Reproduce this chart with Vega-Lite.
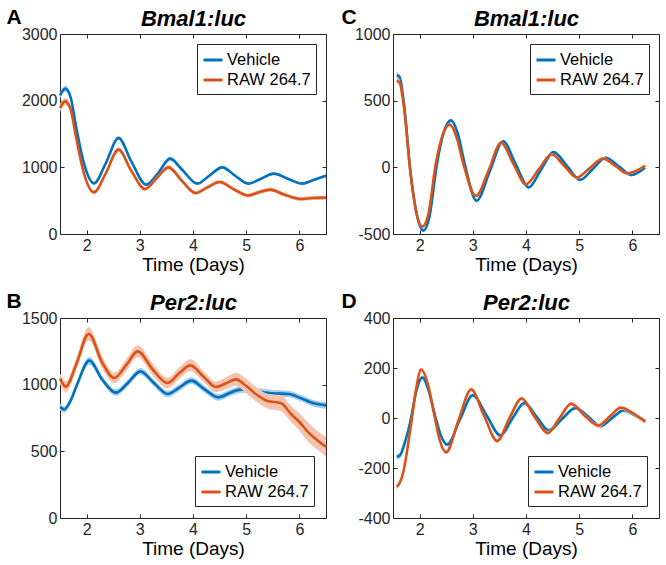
{
  "$schema": "https://vega.github.io/schema/vega-lite/v6.json",
  "padding": 5,
  "datasets": {
    "A": [
      {"g":"Vehicle","d":1.50,"v":2080,"lo":2035,"hi":2125},
      {"g":"Vehicle","d":1.60,"v":2180,"lo":2135,"hi":2225},
      {"g":"Vehicle","d":1.70,"v":2050,"lo":2010,"hi":2090},
      {"g":"Vehicle","d":1.80,"v":1620,"lo":1585,"hi":1655},
      {"g":"Vehicle","d":1.95,"v":1060,"lo":1030,"hi":1090},
      {"g":"Vehicle","d":2.14,"v":760,"lo":735,"hi":785},
      {"g":"Vehicle","d":2.36,"v":1060,"lo":1035,"hi":1085},
      {"g":"Vehicle","d":2.60,"v":1440,"lo":1410,"hi":1470},
      {"g":"Vehicle","d":2.84,"v":1090,"lo":1065,"hi":1115},
      {"g":"Vehicle","d":3.12,"v":740,"lo":715,"hi":765},
      {"g":"Vehicle","d":3.34,"v":910,"lo":885,"hi":935},
      {"g":"Vehicle","d":3.57,"v":1130,"lo":1100,"hi":1160},
      {"g":"Vehicle","d":3.80,"v":960,"lo":935,"hi":985},
      {"g":"Vehicle","d":4.08,"v":755,"lo":735,"hi":775},
      {"g":"Vehicle","d":4.30,"v":870,"lo":850,"hi":890},
      {"g":"Vehicle","d":4.55,"v":1000,"lo":980,"hi":1020},
      {"g":"Vehicle","d":4.80,"v":870,"lo":850,"hi":890},
      {"g":"Vehicle","d":5.04,"v":755,"lo":735,"hi":775},
      {"g":"Vehicle","d":5.28,"v":830,"lo":810,"hi":850},
      {"g":"Vehicle","d":5.52,"v":905,"lo":885,"hi":925},
      {"g":"Vehicle","d":5.78,"v":830,"lo":810,"hi":850},
      {"g":"Vehicle","d":6.05,"v":755,"lo":735,"hi":775},
      {"g":"Vehicle","d":6.28,"v":815,"lo":795,"hi":835},
      {"g":"Vehicle","d":6.50,"v":875,"lo":855,"hi":895},
      {"g":"RAW 264.7","d":1.50,"v":1890,"lo":1830,"hi":1950},
      {"g":"RAW 264.7","d":1.60,"v":1990,"lo":1935,"hi":2045},
      {"g":"RAW 264.7","d":1.70,"v":1870,"lo":1820,"hi":1920},
      {"g":"RAW 264.7","d":1.80,"v":1460,"lo":1415,"hi":1505},
      {"g":"RAW 264.7","d":1.95,"v":910,"lo":875,"hi":945},
      {"g":"RAW 264.7","d":2.14,"v":625,"lo":595,"hi":655},
      {"g":"RAW 264.7","d":2.36,"v":910,"lo":880,"hi":940},
      {"g":"RAW 264.7","d":2.60,"v":1265,"lo":1230,"hi":1300},
      {"g":"RAW 264.7","d":2.84,"v":950,"lo":920,"hi":980},
      {"g":"RAW 264.7","d":3.10,"v":675,"lo":645,"hi":705},
      {"g":"RAW 264.7","d":3.32,"v":840,"lo":810,"hi":870},
      {"g":"RAW 264.7","d":3.54,"v":1000,"lo":965,"hi":1035},
      {"g":"RAW 264.7","d":3.80,"v":790,"lo":760,"hi":820},
      {"g":"RAW 264.7","d":4.05,"v":615,"lo":585,"hi":645},
      {"g":"RAW 264.7","d":4.27,"v":700,"lo":670,"hi":730},
      {"g":"RAW 264.7","d":4.50,"v":780,"lo":750,"hi":810},
      {"g":"RAW 264.7","d":4.77,"v":670,"lo":640,"hi":700},
      {"g":"RAW 264.7","d":5.03,"v":578,"lo":548,"hi":608},
      {"g":"RAW 264.7","d":5.24,"v":625,"lo":595,"hi":655},
      {"g":"RAW 264.7","d":5.45,"v":665,"lo":635,"hi":695},
      {"g":"RAW 264.7","d":5.72,"v":590,"lo":560,"hi":620},
      {"g":"RAW 264.7","d":6.03,"v":525,"lo":495,"hi":555},
      {"g":"RAW 264.7","d":6.25,"v":540,"lo":510,"hi":570},
      {"g":"RAW 264.7","d":6.50,"v":545,"lo":515,"hi":575}
    ],
    "B": [
      {"g":"Vehicle","d":1.50,"v":832,"lo":807,"hi":857},
      {"g":"Vehicle","d":1.58,"v":814,"lo":789,"hi":839},
      {"g":"Vehicle","d":1.70,"v":880,"lo":855,"hi":905},
      {"g":"Vehicle","d":1.82,"v":1000,"lo":975,"hi":1025},
      {"g":"Vehicle","d":2.05,"v":1180,"lo":1150,"hi":1210},
      {"g":"Vehicle","d":2.30,"v":1035,"lo":1010,"hi":1060},
      {"g":"Vehicle","d":2.55,"v":940,"lo":915,"hi":965},
      {"g":"Vehicle","d":2.78,"v":1015,"lo":990,"hi":1040},
      {"g":"Vehicle","d":3.01,"v":1100,"lo":1075,"hi":1125},
      {"g":"Vehicle","d":3.26,"v":1015,"lo":990,"hi":1040},
      {"g":"Vehicle","d":3.52,"v":930,"lo":905,"hi":955},
      {"g":"Vehicle","d":3.75,"v":980,"lo":955,"hi":1005},
      {"g":"Vehicle","d":3.97,"v":1030,"lo":1005,"hi":1055},
      {"g":"Vehicle","d":4.22,"v":965,"lo":940,"hi":990},
      {"g":"Vehicle","d":4.48,"v":905,"lo":880,"hi":930},
      {"g":"Vehicle","d":4.70,"v":940,"lo":915,"hi":965},
      {"g":"Vehicle","d":4.92,"v":965,"lo":940,"hi":990},
      {"g":"Vehicle","d":5.20,"v":950,"lo":925,"hi":975},
      {"g":"Vehicle","d":5.50,"v":935,"lo":910,"hi":960},
      {"g":"Vehicle","d":5.80,"v":930,"lo":905,"hi":955},
      {"g":"Vehicle","d":6.02,"v":900,"lo":875,"hi":925},
      {"g":"Vehicle","d":6.27,"v":860,"lo":835,"hi":885},
      {"g":"Vehicle","d":6.50,"v":845,"lo":820,"hi":870},
      {"g":"RAW 264.7","d":1.50,"v":1045,"lo":1005,"hi":1085},
      {"g":"RAW 264.7","d":1.61,"v":985,"lo":945,"hi":1025},
      {"g":"RAW 264.7","d":1.80,"v":1146,"lo":1101,"hi":1191},
      {"g":"RAW 264.7","d":2.04,"v":1380,"lo":1330,"hi":1430},
      {"g":"RAW 264.7","d":2.30,"v":1160,"lo":1115,"hi":1205},
      {"g":"RAW 264.7","d":2.52,"v":1050,"lo":1010,"hi":1090},
      {"g":"RAW 264.7","d":2.75,"v":1150,"lo":1105,"hi":1195},
      {"g":"RAW 264.7","d":2.96,"v":1250,"lo":1205,"hi":1295},
      {"g":"RAW 264.7","d":3.25,"v":1110,"lo":1065,"hi":1155},
      {"g":"RAW 264.7","d":3.52,"v":1012,"lo":972,"hi":1052},
      {"g":"RAW 264.7","d":3.75,"v":1090,"lo":1045,"hi":1135},
      {"g":"RAW 264.7","d":3.95,"v":1145,"lo":1100,"hi":1190},
      {"g":"RAW 264.7","d":4.20,"v":1060,"lo":1020,"hi":1100},
      {"g":"RAW 264.7","d":4.43,"v":983,"lo":943,"hi":1023},
      {"g":"RAW 264.7","d":4.62,"v":1010,"lo":965,"hi":1055},
      {"g":"RAW 264.7","d":4.81,"v":1040,"lo":990,"hi":1090},
      {"g":"RAW 264.7","d":5.00,"v":990,"lo":935,"hi":1045},
      {"g":"RAW 264.7","d":5.18,"v":930,"lo":875,"hi":985},
      {"g":"RAW 264.7","d":5.40,"v":877,"lo":822,"hi":932},
      {"g":"RAW 264.7","d":5.65,"v":862,"lo":802,"hi":922},
      {"g":"RAW 264.7","d":5.84,"v":782,"lo":722,"hi":842},
      {"g":"RAW 264.7","d":6.00,"v":720,"lo":655,"hi":785},
      {"g":"RAW 264.7","d":6.15,"v":650,"lo":580,"hi":720},
      {"g":"RAW 264.7","d":6.33,"v":585,"lo":515,"hi":655},
      {"g":"RAW 264.7","d":6.50,"v":535,"lo":460,"hi":610}
    ],
    "C": [
      {"g":"Vehicle","d":1.57,"v":690,"lo":665,"hi":715},
      {"g":"Vehicle","d":1.62,"v":680,"lo":660,"hi":700},
      {"g":"Vehicle","d":1.70,"v":500,"lo":485,"hi":515},
      {"g":"Vehicle","d":1.83,"v":-40,"lo":-50,"hi":-30},
      {"g":"Vehicle","d":1.95,"v":-360,"lo":-370,"hi":-350},
      {"g":"Vehicle","d":2.07,"v":-475,"lo":-487,"hi":-463},
      {"g":"Vehicle","d":2.18,"v":-380,"lo":-390,"hi":-370},
      {"g":"Vehicle","d":2.33,"v":35,"lo":25,"hi":45},
      {"g":"Vehicle","d":2.46,"v":270,"lo":260,"hi":280},
      {"g":"Vehicle","d":2.59,"v":352,"lo":340,"hi":364},
      {"g":"Vehicle","d":2.72,"v":250,"lo":240,"hi":260},
      {"g":"Vehicle","d":2.84,"v":40,"lo":30,"hi":50},
      {"g":"Vehicle","d":3.07,"v":-251,"lo":-261,"hi":-241},
      {"g":"Vehicle","d":3.32,"v":-30,"lo":-40,"hi":-20},
      {"g":"Vehicle","d":3.57,"v":196,"lo":186,"hi":206},
      {"g":"Vehicle","d":3.80,"v":30,"lo":20,"hi":40},
      {"g":"Vehicle","d":4.05,"v":-150,"lo":-160,"hi":-140},
      {"g":"Vehicle","d":4.28,"v":-20,"lo":-30,"hi":-10},
      {"g":"Vehicle","d":4.52,"v":114,"lo":104,"hi":124},
      {"g":"Vehicle","d":4.77,"v":10,"lo":0,"hi":20},
      {"g":"Vehicle","d":5.02,"v":-94,"lo":-104,"hi":-84},
      {"g":"Vehicle","d":5.26,"v":-10,"lo":-20,"hi":0},
      {"g":"Vehicle","d":5.50,"v":72,"lo":62,"hi":82},
      {"g":"Vehicle","d":5.75,"v":5,"lo":-5,"hi":15},
      {"g":"Vehicle","d":5.98,"v":-57,"lo":-67,"hi":-47},
      {"g":"Vehicle","d":6.24,"v":-2,"lo":-12,"hi":8},
      {"g":"RAW 264.7","d":1.57,"v":650,"lo":625,"hi":675},
      {"g":"RAW 264.7","d":1.62,"v":640,"lo":620,"hi":660},
      {"g":"RAW 264.7","d":1.70,"v":470,"lo":455,"hi":485},
      {"g":"RAW 264.7","d":1.83,"v":-45,"lo":-55,"hi":-35},
      {"g":"RAW 264.7","d":1.94,"v":-340,"lo":-350,"hi":-330},
      {"g":"RAW 264.7","d":2.05,"v":-445,"lo":-457,"hi":-433},
      {"g":"RAW 264.7","d":2.16,"v":-360,"lo":-370,"hi":-350},
      {"g":"RAW 264.7","d":2.31,"v":40,"lo":30,"hi":50},
      {"g":"RAW 264.7","d":2.44,"v":250,"lo":240,"hi":260},
      {"g":"RAW 264.7","d":2.57,"v":320,"lo":308,"hi":332},
      {"g":"RAW 264.7","d":2.70,"v":220,"lo":210,"hi":230},
      {"g":"RAW 264.7","d":2.82,"v":30,"lo":20,"hi":40},
      {"g":"RAW 264.7","d":3.06,"v":-215,"lo":-225,"hi":-205},
      {"g":"RAW 264.7","d":3.30,"v":-20,"lo":-30,"hi":-10},
      {"g":"RAW 264.7","d":3.53,"v":184,"lo":174,"hi":194},
      {"g":"RAW 264.7","d":3.77,"v":20,"lo":10,"hi":30},
      {"g":"RAW 264.7","d":4.00,"v":-127,"lo":-137,"hi":-117},
      {"g":"RAW 264.7","d":4.24,"v":-15,"lo":-25,"hi":-5},
      {"g":"RAW 264.7","d":4.48,"v":98,"lo":88,"hi":108},
      {"g":"RAW 264.7","d":4.72,"v":10,"lo":0,"hi":20},
      {"g":"RAW 264.7","d":4.96,"v":-76,"lo":-86,"hi":-66},
      {"g":"RAW 264.7","d":5.20,"v":-5,"lo":-15,"hi":5},
      {"g":"RAW 264.7","d":5.45,"v":65,"lo":55,"hi":75},
      {"g":"RAW 264.7","d":5.68,"v":10,"lo":0,"hi":20},
      {"g":"RAW 264.7","d":5.90,"v":-45,"lo":-55,"hi":-35},
      {"g":"RAW 264.7","d":6.24,"v":12,"lo":2,"hi":22}
    ],
    "D": [
      {"g":"Vehicle","d":1.57,"v":-155,"lo":-167,"hi":-143},
      {"g":"Vehicle","d":1.63,"v":-150,"lo":-160,"hi":-140},
      {"g":"Vehicle","d":1.72,"v":-100,"lo":-108,"hi":-92},
      {"g":"Vehicle","d":1.83,"v":-10,"lo":-18,"hi":-2},
      {"g":"Vehicle","d":1.93,"v":100,"lo":92,"hi":108},
      {"g":"Vehicle","d":2.05,"v":162,"lo":154,"hi":170},
      {"g":"Vehicle","d":2.17,"v":110,"lo":102,"hi":118},
      {"g":"Vehicle","d":2.29,"v":10,"lo":2,"hi":18},
      {"g":"Vehicle","d":2.40,"v":-70,"lo":-78,"hi":-62},
      {"g":"Vehicle","d":2.52,"v":-106,"lo":-114,"hi":-98},
      {"g":"Vehicle","d":2.76,"v":-5,"lo":-13,"hi":3},
      {"g":"Vehicle","d":3.00,"v":91,"lo":83,"hi":99},
      {"g":"Vehicle","d":3.26,"v":10,"lo":2,"hi":18},
      {"g":"Vehicle","d":3.52,"v":-70,"lo":-78,"hi":-62},
      {"g":"Vehicle","d":3.75,"v":0,"lo":-8,"hi":8},
      {"g":"Vehicle","d":3.97,"v":60,"lo":52,"hi":68},
      {"g":"Vehicle","d":4.20,"v":5,"lo":-3,"hi":13},
      {"g":"Vehicle","d":4.43,"v":-50,"lo":-58,"hi":-42},
      {"g":"Vehicle","d":4.68,"v":-3,"lo":-11,"hi":5},
      {"g":"Vehicle","d":4.93,"v":40,"lo":32,"hi":48},
      {"g":"Vehicle","d":5.17,"v":5,"lo":-3,"hi":13},
      {"g":"Vehicle","d":5.40,"v":-32,"lo":-40,"hi":-24},
      {"g":"Vehicle","d":5.62,"v":0,"lo":-8,"hi":8},
      {"g":"Vehicle","d":5.84,"v":31,"lo":23,"hi":39},
      {"g":"Vehicle","d":6.04,"v":12,"lo":4,"hi":20},
      {"g":"Vehicle","d":6.24,"v":-12,"lo":-20,"hi":-4},
      {"g":"RAW 264.7","d":1.57,"v":-275,"lo":-287,"hi":-263},
      {"g":"RAW 264.7","d":1.62,"v":-262,"lo":-272,"hi":-252},
      {"g":"RAW 264.7","d":1.70,"v":-210,"lo":-218,"hi":-202},
      {"g":"RAW 264.7","d":1.78,"v":-110,"lo":-118,"hi":-102},
      {"g":"RAW 264.7","d":1.85,"v":-10,"lo":-18,"hi":-2},
      {"g":"RAW 264.7","d":1.93,"v":110,"lo":102,"hi":118},
      {"g":"RAW 264.7","d":2.03,"v":194,"lo":186,"hi":202},
      {"g":"RAW 264.7","d":2.15,"v":140,"lo":132,"hi":148},
      {"g":"RAW 264.7","d":2.27,"v":20,"lo":12,"hi":28},
      {"g":"RAW 264.7","d":2.38,"v":-90,"lo":-98,"hi":-82},
      {"g":"RAW 264.7","d":2.50,"v":-137,"lo":-145,"hi":-129},
      {"g":"RAW 264.7","d":2.73,"v":-10,"lo":-18,"hi":-2},
      {"g":"RAW 264.7","d":2.97,"v":114,"lo":106,"hi":122},
      {"g":"RAW 264.7","d":3.21,"v":10,"lo":2,"hi":18},
      {"g":"RAW 264.7","d":3.46,"v":-92,"lo":-100,"hi":-84},
      {"g":"RAW 264.7","d":3.69,"v":0,"lo":-8,"hi":8},
      {"g":"RAW 264.7","d":3.92,"v":78,"lo":70,"hi":86},
      {"g":"RAW 264.7","d":4.16,"v":5,"lo":-3,"hi":13},
      {"g":"RAW 264.7","d":4.41,"v":-60,"lo":-68,"hi":-52},
      {"g":"RAW 264.7","d":4.63,"v":0,"lo":-8,"hi":8},
      {"g":"RAW 264.7","d":4.85,"v":57,"lo":49,"hi":65},
      {"g":"RAW 264.7","d":5.10,"v":10,"lo":2,"hi":18},
      {"g":"RAW 264.7","d":5.36,"v":-30,"lo":-38,"hi":-22},
      {"g":"RAW 264.7","d":5.57,"v":5,"lo":-3,"hi":13},
      {"g":"RAW 264.7","d":5.78,"v":41,"lo":33,"hi":49},
      {"g":"RAW 264.7","d":6.02,"v":18,"lo":10,"hi":26},
      {"g":"RAW 264.7","d":6.24,"v":-15,"lo":-23,"hi":-7}
    ]
  },
  "columns": 2,
  "spacing": {"row": 14, "column": 8},
  "resolve": {"scale": {"color": "independent"}, "legend": {"color": "independent"}},
  "concat": [
    {
      "width": 266, "height": 200,
      "data": {"name": "A"},
      "layer": [
        {"transform": [{"filter": "datum.g === 'Vehicle'"}],
         "mark": {"type": "area", "color": "#A9CDEB", "opacity": 1, "interpolate": "monotone"},
         "encoding": {
           "x": {"field": "d", "type": "quantitative", "scale": {"domain": [1.5, 6.5], "nice": false, "zero": false}, "axis": {"orient": "top", "labels": false, "title": "Bmal1:luc", "titleFontSize": 22, "titleFontWeight": "bold", "titleFontStyle": "italic", "titlePadding": 3, "values": [2,3,4,5,6]}},
           "y": {"field": "lo", "type": "quantitative", "scale": {"domain": [0, 3000], "nice": false, "zero": false}, "axis": {"orient": "right", "labels": false, "title": null, "values": [0,1000,2000,3000]}},
           "y2": {"field": "hi"}}},
        {"transform": [{"filter": "datum.g === 'Vehicle'"}],
         "mark": {"type": "line", "strokeWidth": 2.6, "interpolate": "monotone"},
         "encoding": {
           "x": {"field": "d", "type": "quantitative", "axis": {"title": "Time (Days)", "values": [2,3,4,5,6]}},
           "y": {"field": "v", "type": "quantitative", "axis": {"title": "A", "titleAngle": 0, "titleX": -54, "titleY": -11, "titleAlign": "left", "titleBaseline": "alphabetic", "titleFontSize": 21, "titleFontWeight": "bold", "values": [0,1000,2000,3000], "labelExpr": "datum.value"}},
           "color": {"field": "g", "type": "nominal", "scale": {"domain": ["Vehicle", "RAW 264.7"], "range": ["#0072BD", "#D95319"]}, "legend": {"title": null, "orient": "top-right"}}}},
        {"transform": [{"filter": "datum.g === 'RAW 264.7'"}],
         "mark": {"type": "area", "color": "#F4C3B0", "opacity": 1, "interpolate": "monotone"},
         "encoding": {
           "x": {"field": "d", "type": "quantitative", "axis": null},
           "y": {"field": "lo", "type": "quantitative", "axis": null},
           "y2": {"field": "hi"}}},
        {"transform": [{"filter": "datum.g === 'RAW 264.7'"}],
         "mark": {"type": "line", "strokeWidth": 2.6, "interpolate": "monotone"},
         "encoding": {
           "x": {"field": "d", "type": "quantitative", "axis": null},
           "y": {"field": "v", "type": "quantitative", "axis": null},
           "color": {"field": "g", "type": "nominal", "scale": {"domain": ["Vehicle", "RAW 264.7"], "range": ["#0072BD", "#D95319"]}, "legend": {"title": null, "orient": "top-right"}}}}
      ],
      "resolve": {"axis": {"x": "independent", "y": "independent"}}
    },
    {
      "width": 266, "height": 200,
      "data": {"name": "C"},
      "layer": [
        {"transform": [{"filter": "datum.g === 'Vehicle'"}],
         "mark": {"type": "area", "color": "#A9CDEB", "opacity": 1, "interpolate": "monotone"},
         "encoding": {
           "x": {"field": "d", "type": "quantitative", "scale": {"domain": [1.5, 6.5], "nice": false, "zero": false}, "axis": {"orient": "top", "labels": false, "title": "Bmal1:luc", "titleFontSize": 22, "titleFontWeight": "bold", "titleFontStyle": "italic", "titlePadding": 3, "values": [2,3,4,5,6]}},
           "y": {"field": "lo", "type": "quantitative", "scale": {"domain": [-500, 1000], "nice": false, "zero": false}, "axis": {"orient": "right", "labels": false, "title": null, "values": [-500,0,500,1000]}},
           "y2": {"field": "hi"}}},
        {"transform": [{"filter": "datum.g === 'Vehicle'"}],
         "mark": {"type": "line", "strokeWidth": 2.6, "interpolate": "monotone"},
         "encoding": {
           "x": {"field": "d", "type": "quantitative", "axis": {"title": "Time (Days)", "values": [2,3,4,5,6]}},
           "y": {"field": "v", "type": "quantitative", "axis": {"title": "C", "titleAngle": 0, "titleX": -52, "titleY": -11, "titleAlign": "left", "titleBaseline": "alphabetic", "titleFontSize": 21, "titleFontWeight": "bold", "values": [-500,0,500,1000], "labelExpr": "datum.value"}},
           "color": {"field": "g", "type": "nominal", "scale": {"domain": ["Vehicle", "RAW 264.7"], "range": ["#0072BD", "#D95319"]}, "legend": {"title": null, "orient": "top-right"}}}},
        {"transform": [{"filter": "datum.g === 'RAW 264.7'"}],
         "mark": {"type": "area", "color": "#F4C3B0", "opacity": 1, "interpolate": "monotone"},
         "encoding": {
           "x": {"field": "d", "type": "quantitative", "axis": null},
           "y": {"field": "lo", "type": "quantitative", "axis": null},
           "y2": {"field": "hi"}}},
        {"transform": [{"filter": "datum.g === 'RAW 264.7'"}],
         "mark": {"type": "line", "strokeWidth": 2.6, "interpolate": "monotone"},
         "encoding": {
           "x": {"field": "d", "type": "quantitative", "axis": null},
           "y": {"field": "v", "type": "quantitative", "axis": null},
           "color": {"field": "g", "type": "nominal", "scale": {"domain": ["Vehicle", "RAW 264.7"], "range": ["#0072BD", "#D95319"]}, "legend": {"title": null, "orient": "top-right"}}}}
      ],
      "resolve": {"axis": {"x": "independent", "y": "independent"}}
    },
    {
      "width": 266, "height": 200,
      "data": {"name": "B"},
      "layer": [
        {"transform": [{"filter": "datum.g === 'Vehicle'"}],
         "mark": {"type": "area", "color": "#A9CDEB", "opacity": 1, "interpolate": "monotone"},
         "encoding": {
           "x": {"field": "d", "type": "quantitative", "scale": {"domain": [1.5, 6.5], "nice": false, "zero": false}, "axis": {"orient": "top", "labels": false, "title": "Per2:luc", "titleFontSize": 22, "titleFontWeight": "bold", "titleFontStyle": "italic", "titlePadding": 3, "values": [2,3,4,5,6]}},
           "y": {"field": "lo", "type": "quantitative", "scale": {"domain": [0, 1500], "nice": false, "zero": false}, "axis": {"orient": "right", "labels": false, "title": null, "values": [0,500,1000,1500]}},
           "y2": {"field": "hi"}}},
        {"transform": [{"filter": "datum.g === 'Vehicle'"}],
         "mark": {"type": "line", "strokeWidth": 2.6, "interpolate": "monotone"},
         "encoding": {
           "x": {"field": "d", "type": "quantitative", "axis": {"title": "Time (Days)", "values": [2,3,4,5,6]}},
           "y": {"field": "v", "type": "quantitative", "axis": {"title": "B", "titleAngle": 0, "titleX": -54, "titleY": -11, "titleAlign": "left", "titleBaseline": "alphabetic", "titleFontSize": 21, "titleFontWeight": "bold", "values": [0,500,1000,1500], "labelExpr": "datum.value"}},
           "color": {"field": "g", "type": "nominal", "scale": {"domain": ["Vehicle", "RAW 264.7"], "range": ["#0072BD", "#D95319"]}, "legend": {"title": null, "orient": "bottom-right", "offset": 12}}}},
        {"transform": [{"filter": "datum.g === 'RAW 264.7'"}],
         "mark": {"type": "area", "color": "#F4C3B0", "opacity": 1, "interpolate": "monotone"},
         "encoding": {
           "x": {"field": "d", "type": "quantitative", "axis": null},
           "y": {"field": "lo", "type": "quantitative", "axis": null},
           "y2": {"field": "hi"}}},
        {"transform": [{"filter": "datum.g === 'RAW 264.7'"}],
         "mark": {"type": "line", "strokeWidth": 2.6, "interpolate": "monotone"},
         "encoding": {
           "x": {"field": "d", "type": "quantitative", "axis": null},
           "y": {"field": "v", "type": "quantitative", "axis": null},
           "color": {"field": "g", "type": "nominal", "scale": {"domain": ["Vehicle", "RAW 264.7"], "range": ["#0072BD", "#D95319"]}, "legend": {"title": null, "orient": "bottom-right", "offset": 12}}}}
      ],
      "resolve": {"axis": {"x": "independent", "y": "independent"}}
    },
    {
      "width": 266, "height": 200,
      "data": {"name": "D"},
      "layer": [
        {"transform": [{"filter": "datum.g === 'Vehicle'"}],
         "mark": {"type": "area", "color": "#A9CDEB", "opacity": 1, "interpolate": "monotone"},
         "encoding": {
           "x": {"field": "d", "type": "quantitative", "scale": {"domain": [1.5, 6.5], "nice": false, "zero": false}, "axis": {"orient": "top", "labels": false, "title": "Per2:luc", "titleFontSize": 22, "titleFontWeight": "bold", "titleFontStyle": "italic", "titlePadding": 3, "values": [2,3,4,5,6]}},
           "y": {"field": "lo", "type": "quantitative", "scale": {"domain": [-400, 400], "nice": false, "zero": false}, "axis": {"orient": "right", "labels": false, "title": null, "values": [-400,-200,0,200,400]}},
           "y2": {"field": "hi"}}},
        {"transform": [{"filter": "datum.g === 'Vehicle'"}],
         "mark": {"type": "line", "strokeWidth": 2.6, "interpolate": "monotone"},
         "encoding": {
           "x": {"field": "d", "type": "quantitative", "axis": {"title": "Time (Days)", "values": [2,3,4,5,6]}},
           "y": {"field": "v", "type": "quantitative", "axis": {"title": "D", "titleAngle": 0, "titleX": -52, "titleY": -11, "titleAlign": "left", "titleBaseline": "alphabetic", "titleFontSize": 21, "titleFontWeight": "bold", "values": [-400,-200,0,200,400], "labelExpr": "datum.value"}},
           "color": {"field": "g", "type": "nominal", "scale": {"domain": ["Vehicle", "RAW 264.7"], "range": ["#0072BD", "#D95319"]}, "legend": {"title": null, "orient": "bottom-right", "offset": 12}}}},
        {"transform": [{"filter": "datum.g === 'RAW 264.7'"}],
         "mark": {"type": "area", "color": "#F4C3B0", "opacity": 1, "interpolate": "monotone"},
         "encoding": {
           "x": {"field": "d", "type": "quantitative", "axis": null},
           "y": {"field": "lo", "type": "quantitative", "axis": null},
           "y2": {"field": "hi"}}},
        {"transform": [{"filter": "datum.g === 'RAW 264.7'"}],
         "mark": {"type": "line", "strokeWidth": 2.6, "interpolate": "monotone"},
         "encoding": {
           "x": {"field": "d", "type": "quantitative", "axis": null},
           "y": {"field": "v", "type": "quantitative", "axis": null},
           "color": {"field": "g", "type": "nominal", "scale": {"domain": ["Vehicle", "RAW 264.7"], "range": ["#0072BD", "#D95319"]}, "legend": {"title": null, "orient": "bottom-right", "offset": 12}}}}
      ],
      "resolve": {"axis": {"x": "independent", "y": "independent"}}
    }
  ],
  "config": {
    "font": "Liberation Sans",
    "view": {"stroke": "#262626", "strokeWidth": 1},
    "axis": {"grid": false, "domain": false, "labelFont": "Liberation Sans", "labelFontSize": 16, "labelColor": "#262626", "tickColor": "#262626", "tickSize": -4, "labelPadding": 7, "titleFont": "Liberation Sans", "titleColor": "#000000", "titleFontWeight": "normal", "titleFontSize": 19, "titlePadding": 2},
    "legend": {"labelFont": "Liberation Sans", "labelFontSize": 16.5, "labelColor": "#000000", "strokeColor": "#262626", "fillColor": "#ffffff", "padding": 5, "symbolType": "stroke", "symbolStrokeWidth": 3, "symbolSize": 361, "rowPadding": 0, "labelOffset": 3, "offset": 10}
  }
}
